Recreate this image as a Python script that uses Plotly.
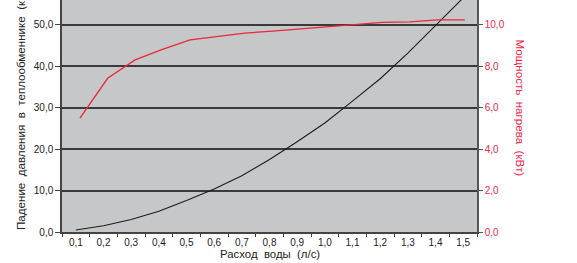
import plotly.graph_objects as go

# Categories: water flow (l/s)
flow = [0.1, 0.2, 0.3, 0.4, 0.5, 0.6, 0.7, 0.8, 0.9, 1.0, 1.1, 1.2, 1.3, 1.4, 1.5]
flow_labels = ["0,1", "0,2", "0,3", "0,4", "0,5", "0,6", "0,7", "0,8", "0,9", "1,0",
               "1,1", "1,2", "1,3", "1,4", "1,5"]

# Pressure drop in heat exchanger (kPa), left axis
pressure = [0.5, 1.5, 3.0, 5.0, 7.6, 10.4, 13.6, 17.5, 21.8, 26.3, 31.6, 37.0, 43.2, 49.8, 56.5]

# Heating power (kW), right axis (points sit slightly right of category centres)
power_x = [0.115, 0.215, 0.314, 0.413, 0.513, 0.612, 0.711, 0.811, 0.910, 1.009,
           1.109, 1.208, 1.307, 1.407, 1.506]
power = [5.5, 7.42, 8.31, 8.82, 9.28, 9.44, 9.6, 9.7, 9.8, 9.9, 10.02, 10.12, 10.14, 10.24, 10.24]

left_ticks = [0, 10, 20, 30, 40, 50]
right_ticks = [0, 2, 4, 6, 8, 10]

boundaries = [round(c - 0.05, 2) for c in flow] + [round(flow[-1] + 0.05, 2)]

RED = "#ee2846"
DARK = "#222222"
FONT = "Liberation Sans, Arial, sans-serif"

fig = go.Figure()
fig.add_trace(go.Scatter(x=flow, y=pressure, mode="lines",
                         line=dict(color="#1c1c1c", width=1.1),
                         xaxis="x", yaxis="y", showlegend=False, hoverinfo="skip"))
fig.add_trace(go.Scatter(x=power_x, y=power, mode="lines",
                         line=dict(color="#e8283c", width=1.3),
                         xaxis="x", yaxis="y2", showlegend=False, hoverinfo="skip"))
# dummy trace so the boundary-tick axis is drawn
fig.add_trace(go.Scatter(x=[flow[0]], y=[None], mode="lines", xaxis="x2", yaxis="y",
                         showlegend=False, hoverinfo="skip"))

fig.update_layout(
    width=577, height=263,
    margin=dict(l=62, r=100, t=0, b=31, pad=0),
    paper_bgcolor="white",
    plot_bgcolor="#c6c7c9",
    separators=", ",
    font=dict(family=FONT, size=10, color=DARK),
    xaxis=dict(range=[0.05, 1.55], tickvals=flow, ticktext=flow_labels,
               ticks="", ticklen=0,
               showline=True, linecolor="#444444", linewidth=1.5,
               showgrid=False, zeroline=False,
               tickfont=dict(size=10, color=DARK)),
    xaxis2=dict(range=[0.05, 1.55], overlaying="x", anchor="y", side="bottom",
                tickvals=boundaries, ticks="outside", ticklen=4, tickwidth=1,
                tickcolor="#444444", showticklabels=False, showline=False,
                showgrid=False, zeroline=False),
    yaxis=dict(range=[0, 56.0], tickvals=left_ticks, tickformat=".1f",
               ticks="outside", ticklen=5, tickcolor="#444444",
               showline=True, linecolor="#444444", linewidth=1.5,
               showgrid=True, gridcolor="#3a3a3a", gridwidth=1.5,
               zeroline=False, tickfont=dict(size=10, color=DARK)),
    yaxis2=dict(range=[0, 11.2], tickvals=right_ticks, tickformat=".1f",
                overlaying="y", side="right", anchor="x",
                ticks="outside", ticklen=4, tickcolor="#555555",
                showline=True, linecolor="#555555", linewidth=1.5,
                showgrid=False, zeroline=False,
                tickfont=dict(size=10, color=RED)),
    annotations=[
        dict(text="Падение\u00a0 давления\u00a0 в\u00a0 теплообменнике\u00a0 (кПа)",
             xref="paper", yref="paper", x=(20 - 62) / 415, y=0,
             xanchor="center", yanchor="bottom", textangle=-90, showarrow=False,
             font=dict(size=11.6, color=DARK)),
        dict(text="Мощность\u00a0 нагрева\u00a0 (кВт)",
             xref="paper", yref="paper", x=(520 - 62) / 415, y=(232 - 107.5) / 232,
             xanchor="center", yanchor="middle", textangle=90, showarrow=False,
             font=dict(size=11.6, color=RED)),
        dict(text="Расход\u00a0 воды\u00a0 (л/с)",
             xref="paper", yref="paper", x=0.5, y=(232 - 254) / 232,
             xanchor="center", yanchor="middle", showarrow=False,
             font=dict(size=11.4, color=DARK)),
    ],
)

fig.write_html("out.html")
